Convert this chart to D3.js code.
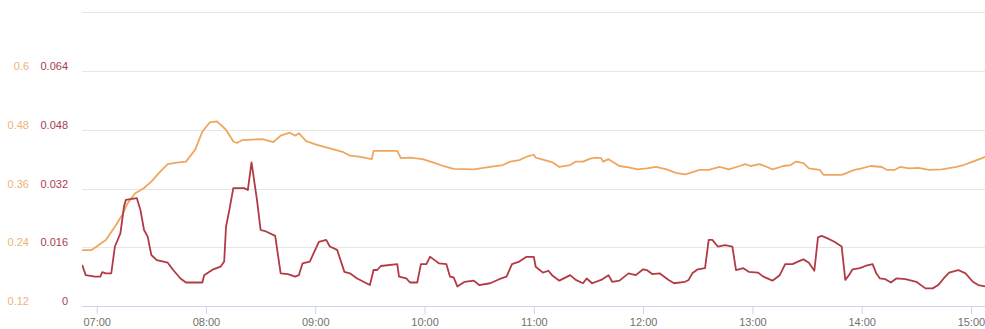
<!DOCTYPE html>
<html>
<head>
<meta charset="utf-8">
<script src="https://cdn.jsdelivr.net/npm/d3@7"></script>
<style>
  html, body { margin: 0; padding: 0; background: #fff; }
  svg { display: block; font-family: "Liberation Sans", Arial, sans-serif; }
</style>
</head>
<body>
<svg id="chart" width="985" height="329"></svg>
<script>
// ---- data ----
const day = "2020-01-01T";
const xDomain = ["06:51:56", "15:07:42"];
const xTickTimes = ["07:00","08:00","09:00","10:00","11:00","12:00","13:00","14:00","15:00"];

const orangeTicks = [0.12, 0.24, 0.36, 0.48, 0.6, 0.72];
const orangeTickLabels = ["0.12", "0.24", "0.36", "0.48", "0.6", ""];
const redTicks = [0, 0.016, 0.032, 0.048, 0.064, 0.08];
const redTickLabels = ["0", "0.016", "0.032", "0.048", "0.064", ""];

const orangeTimes = ["06:52","06:57","07:05","07:10","07:14","07:17","07:21","07:26","07:30","07:35","07:39","07:44","07:49","07:54","07:58","08:02","08:06","08:11","08:15","08:17","08:20","08:31","08:37","08:41","08:46","08:49","08:51","08:55","09:01","09:08","09:15","09:19","09:24","09:31","09:32","09:45","09:47","09:52","09:59","10:05","10:11","10:16","10:27","10:36","10:43","10:47","10:52","10:56","11:00","11:01","11:06","11:10","11:14","11:20","11:23","11:27","11:31","11:34","11:37","11:38","11:41","11:47","11:52","11:57","12:02","12:07","12:13","12:18","12:23","12:25","12:31","12:36","12:42","12:47","12:53","12:56","12:59","13:04","13:08","13:11","13:17","13:21","13:24","13:28","13:31","13:37","13:39","13:49","13:56","14:00","14:05","14:11","14:14","14:18","14:21","14:26","14:31","14:37","14:44","14:52","14:56","15:01","15:08"];
const orangeValues = [0.234,0.234,0.255,0.282,0.306,0.330,0.350,0.361,0.374,0.395,0.410,0.413,0.415,0.439,0.476,0.495,0.497,0.480,0.456,0.453,0.459,0.461,0.455,0.468,0.474,0.468,0.473,0.457,0.449,0.442,0.435,0.427,0.425,0.420,0.437,0.437,0.422,0.423,0.420,0.413,0.405,0.400,0.399,0.404,0.408,0.415,0.418,0.425,0.429,0.423,0.418,0.414,0.404,0.408,0.415,0.415,0.421,0.423,0.422,0.415,0.420,0.406,0.403,0.399,0.401,0.404,0.399,0.392,0.389,0.391,0.398,0.398,0.404,0.399,0.406,0.410,0.406,0.410,0.404,0.399,0.406,0.408,0.415,0.412,0.401,0.398,0.388,0.388,0.398,0.401,0.406,0.404,0.398,0.398,0.404,0.401,0.402,0.398,0.399,0.404,0.408,0.415,0.425];

const redTimes = ["06:52","06:54","06:59","07:02","07:03","07:05","07:08","07:10","07:13","07:15","07:16","07:22","07:24","07:26","07:28","07:30","07:33","07:39","07:42","07:46","07:49","07:58","07:59","08:04","08:08","08:10","08:11","08:13","08:15","08:21","08:23","08:25","08:28","08:30","08:33","08:38","08:41","08:45","08:49","08:51","08:53","08:57","09:02","09:06","09:08","09:12","09:16","09:19","09:23","09:30","09:32","09:34","09:36","09:45","09:46","09:50","09:52","09:56","09:58","10:01","10:03","10:05","10:08","10:12","10:14","10:16","10:18","10:22","10:27","10:30","10:36","10:41","10:45","10:48","10:52","10:56","11:00","11:01","11:05","11:08","11:10","11:14","11:20","11:23","11:27","11:29","11:32","11:37","11:41","11:43","11:47","11:52","11:56","12:00","12:02","12:05","12:09","12:14","12:17","12:23","12:25","12:27","12:30","12:34","12:36","12:38","12:41","12:45","12:49","12:51","12:55","12:58","13:03","13:06","13:11","13:15","13:18","13:22","13:25","13:28","13:31","13:34","13:36","13:38","13:41","13:45","13:49","13:51","13:53","13:55","13:59","14:02","14:06","14:08","14:10","14:13","14:16","14:19","14:24","14:30","14:35","14:39","14:42","14:45","14:48","14:53","14:57","15:01","15:04","15:08"];
const redValues = [0.0112,0.0084,0.0080,0.0080,0.0092,0.0089,0.0089,0.0162,0.0198,0.0271,0.0289,0.0294,0.0262,0.0207,0.0189,0.0139,0.0125,0.0118,0.0098,0.0075,0.0064,0.0064,0.0084,0.0100,0.0107,0.0121,0.0216,0.0266,0.0321,0.0321,0.0316,0.0391,0.0289,0.0207,0.0203,0.0191,0.0089,0.0087,0.0080,0.0084,0.0116,0.0121,0.0175,0.0180,0.0162,0.0153,0.0093,0.0089,0.0075,0.0057,0.0098,0.0098,0.0109,0.0114,0.0080,0.0075,0.0064,0.0064,0.0114,0.0114,0.0134,0.0127,0.0116,0.0114,0.0080,0.0078,0.0053,0.0066,0.0069,0.0057,0.0062,0.0073,0.0080,0.0114,0.0121,0.0134,0.0134,0.0107,0.0091,0.0096,0.0084,0.0069,0.0084,0.0071,0.0062,0.0075,0.0062,0.0071,0.0084,0.0066,0.0069,0.0089,0.0084,0.0100,0.0098,0.0087,0.0089,0.0071,0.0062,0.0066,0.0071,0.0089,0.0100,0.0103,0.0180,0.0180,0.0162,0.0166,0.0162,0.0098,0.0103,0.0093,0.0091,0.0080,0.0069,0.0084,0.0114,0.0114,0.0121,0.0127,0.0118,0.0096,0.0187,0.0191,0.0185,0.0175,0.0162,0.0071,0.0084,0.0100,0.0103,0.0109,0.0114,0.0089,0.0075,0.0073,0.0064,0.0075,0.0073,0.0066,0.0048,0.0048,0.0057,0.0075,0.0091,0.0098,0.0089,0.0066,0.0057,0.0053];

// ---- chart ----
const orangeColor = "#efa65f";
const redColor = "#b23a44";
const parseT = s => new Date(day + (s.length === 5 ? s + ":00" : s));

const svg = d3.select("#chart");
const plotLeft = 82, plotRight = 985, plotTop = 12.3, plotBottom = 306;

const x = d3.scaleTime().domain(xDomain.map(parseT)).range([plotLeft, plotRight]);
const yO = d3.scaleLinear().domain([0.12, 0.72]).range([plotBottom, plotTop]);
const yR = d3.scaleLinear().domain([0, 0.08]).range([plotBottom, plotTop]);

// gridlines
svg.append("g").selectAll("line").data(orangeTicks).join("line")
  .attr("x1", plotLeft).attr("x2", plotRight)
  .attr("y1", d => Math.round(yO(d)) + 0.5).attr("y2", d => Math.round(yO(d)) + 0.5)
  .attr("stroke", "#e6e6e6").attr("stroke-width", 1);

// left labels (orange axis)
svg.append("g").selectAll("text").data(orangeTicks).join("text")
  .attr("x", 29).attr("y", d => yO(d) - 1)
  .attr("text-anchor", "end")
  .attr("font-size", 11).attr("fill", "#eeb27a")
  .text((d, i) => orangeTickLabels[i]);

// left labels (red axis)
svg.append("g").selectAll("text").data(redTicks).join("text")
  .attr("x", 68).attr("y", d => yR(d) - 1)
  .attr("text-anchor", "end")
  .attr("font-size", 11).attr("fill", "#a8404e")
  .text((d, i) => redTickLabels[i]);

// x axis
const xAxis = d3.axisBottom(x)
  .tickValues(xTickTimes.map(parseT))
  .tickFormat(d3.timeFormat("%H:%M"))
  .tickSize(8).tickPadding(4);
const gx = svg.append("g").attr("transform", `translate(0,${plotBottom})`).call(xAxis);
gx.select(".domain").attr("stroke", "#ccd6eb").attr("d", `M${plotLeft},0.5H${plotRight}`);
gx.selectAll(".tick line").attr("stroke", "#ccd6eb");
gx.selectAll(".tick text").attr("fill", "#707070").attr("font-size", 11)
  .attr("font-family", "'Liberation Sans', Arial, sans-serif");

// clip
svg.append("clipPath").attr("id", "clip").append("rect")
  .attr("x", plotLeft).attr("y", 0).attr("width", plotRight - plotLeft).attr("height", plotBottom);

const orangeData = orangeTimes.map((t, i) => ({ t: parseT(t), v: orangeValues[i] }));
const redData = redTimes.map((t, i) => ({ t: parseT(t), v: redValues[i] }));

svg.append("path").datum(orangeData)
  .attr("clip-path", "url(#clip)")
  .attr("fill", "none").attr("stroke", orangeColor).attr("stroke-width", 1.8)
  .attr("stroke-linejoin", "round")
  .attr("d", d3.line().x(d => x(d.t)).y(d => yO(d.v)));

svg.append("path").datum(redData)
  .attr("clip-path", "url(#clip)")
  .attr("fill", "none").attr("stroke", redColor).attr("stroke-width", 1.8)
  .attr("stroke-linejoin", "round")
  .attr("d", d3.line().x(d => x(d.t)).y(d => yR(d.v)));
</script>
</body>
</html>
